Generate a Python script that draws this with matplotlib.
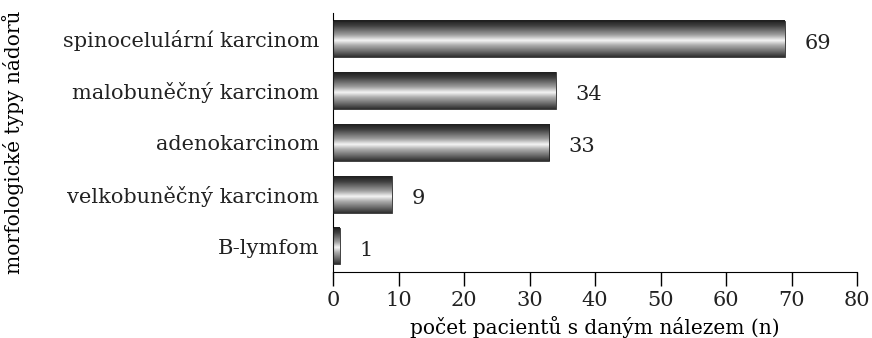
import numpy as np
import matplotlib
matplotlib.use("Agg")
import matplotlib.pyplot as plt

categories = ["spinocelulární karcinom", "malobuněčný karcinom", "adenokarcinom",
              "velkobuněčný karcinom", "B-lymfom"]
counts = [69, 34, 33, 9, 1]
xticks = [0, 10, 20, 30, 40, 50, 60, 70, 80]

plt.rcParams['font.family'] = ['DejaVu Serif']
plt.rcParams['text.color'] = '#222222'
plt.rcParams['xtick.labelcolor'] = '#222222'
plt.rcParams['ytick.labelcolor'] = '#222222'

fig = plt.figure(figsize=(8.72, 3.38), dpi=100)
ax = fig.add_axes([333/872, 66/338, (857-333)/872, (272-13)/338])

# metallic look: vertical grey gradient through each bar
t = np.linspace(0, 1, 200)
shade = np.interp(t, [0, 0.15, 0.4, 0.55, 0.68, 0.85, 1],
                  [0.12, 0.25, 0.62, 0.96, 0.68, 0.42, 0.18])
grad = shade.reshape(-1, 1)

h = 0.71
ypos = np.arange(len(categories))
for y, v in zip(ypos, counts):
    ax.imshow(grad, cmap='gray', vmin=0, vmax=1, aspect='auto',
              extent=[0, v, y + h/2, y - h/2], zorder=2, interpolation='bilinear')
    ax.barh(y, v, height=h, color='none', edgecolor='#222222', linewidth=0.6, zorder=3)
    ax.text(v + 3, y + 0.08, str(v), va='center', ha='left', fontsize=15)

ax.set_xlim(0, 80)
ax.set_ylim(len(categories) - 0.5, -0.5)
ax.set_xticks(xticks)
ax.set_yticks(ypos)
ax.set_yticklabels(categories, fontsize=15)
ax.tick_params(axis='x', length=10, width=1, labelsize=15, pad=4)
ax.tick_params(axis='y', length=0, pad=10)
ax.spines['top'].set_visible(False)
ax.spines['right'].set_visible(False)
ax.set_xlabel("počet pacientů s daným nálezem (n)", fontsize=14.5, labelpad=4)
ax.set_ylabel("morfologické typy nádorů", fontsize=14.5, labelpad=28)

fig.savefig("out.png", dpi=100)
